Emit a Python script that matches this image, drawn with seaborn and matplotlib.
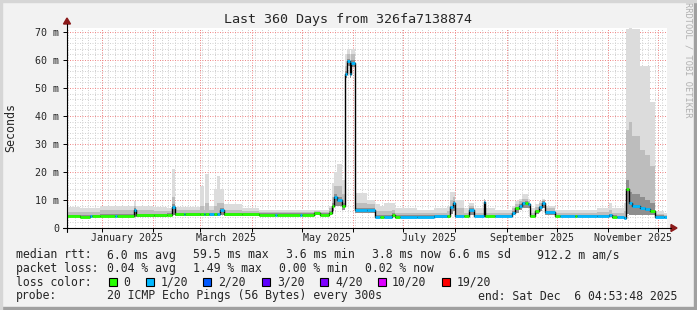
import matplotlib
matplotlib.use("Agg")
import matplotlib.pyplot as plt
import seaborn as sns
import pandas as pd
from matplotlib.patches import Rectangle, Polygon
from matplotlib.lines import Line2D
from datetime import datetime, timedelta

# ---------------- data ----------------
TITLE = "Last 360 Days from 326fa7138874"
END_TIME = datetime(2025, 12, 6, 4, 53, 48)
SPAN_DAYS = 360

# segment start (days since start of graph); values hold until next segment
seg_day = [0, 8, 14, 15, 20, 29, 30, 40, 41.5, 52, 60, 63, 65, 70, 71, 80, 82, 83, 85, 88,
           90, 92, 94, 105, 115, 125, 126, 140, 141, 148, 152, 157, 159, 160, 162, 165, 166.5, 168, 169.5, 170.5,
           172.5, 173, 180, 185, 188, 190, 195, 197, 200, 210, 220, 228, 230, 231.5, 232.5, 238, 241, 244, 250, 251,
           257, 267, 269, 271, 273, 275, 276.5, 278, 281, 283, 285, 287, 293, 296, 305, 306, 318, 325, 327, 330,
           334, 335.5, 337, 339, 344, 347, 350, 353, 358]
median_ms = [4.3, 4.1, 4.3, 4.3, 4.4, 4.4, 4.4, 6.4, 4.5, 4.5, 4.8, 7.5, 5.0, 5.0, 5.0, 4.9, 4.9, 4.9, 4.9, 4.9,
             4.9, 6.6, 4.9, 4.9, 4.8, 4.8, 4.8, 4.8, 4.8, 5.3, 4.8, 5.5, 8.0, 11.0, 10.0, 8.0, 55, 59.5, 55, 59,
             44, 6.4, 6.4, 4.0, 4.0, 4.0, 4.8, 4.0, 4.0, 4.0, 4.2, 4.2, 7.5, 9.0, 4.3, 4.3, 6.5, 4.3, 9.4, 4.3,
             4.3, 5.5, 7.0, 8.0, 8.8, 9.0, 8.5, 4.2, 6.0, 7.5, 9.0, 5.7, 4.3, 4.3, 4.3, 4.3, 4.3, 4.5, 4.0, 3.8,
             3.6, 14, 9.0, 8.0, 7.2, 6.8, 6.2, 4.0, 3.8]
loss_idx = [0, 0, 1, 0, 0, 1, 0, 1, 0, 0, 0, 1, 0, 1, 0, 0, 1, 0, 1, 0,
            1, 1, 0, 0, 0, 1, 0, 1, 0, 0, 0, 0, 0, 1, 1, 0, 1, 1, 1, 1,
            0, 1, 1, 1, 0, 1, 0, 0, 1, 1, 1, 0, 1, 1, 1, 0, 1, 1, 1, 0,
            1, 1, 0, 1, 1, 0, 1, 0, 0, 1, 1, 1, 0, 1, 0, 1, 1, 1, 0, 1,
            1, 0, 1, 1, 1, 1, 0, 1, 1]
smoke_lo = [3.8, 3.7, 3.8, 3.8, 3.9, 3.9, 3.9, 4.0, 4.0, 4.0, 4.2, 4.5, 4.4, 4.4, 4.4, 4.3, 4.3, 4.3, 4.3, 4.3,
            4.3, 4.5, 4.3, 4.3, 4.2, 4.2, 4.2, 4.2, 4.2, 4.5, 4.2, 4.5, 6.0, 8.0, 8.0, 6.5, 53.5, 58, 53.5, 57.5,
            40, 5.5, 5.5, 3.6, 3.6, 3.6, 4.0, 3.6, 3.6, 3.6, 3.6, 3.7, 5.0, 6.0, 3.8, 3.8, 4.5, 3.8, 5.0, 3.8,
            3.8, 4.5, 5.5, 6.5, 7.0, 7.0, 7.0, 3.8, 5.0, 6.0, 7.0, 4.5, 3.8, 3.8, 3.8, 3.8, 3.8, 3.8, 3.6, 3.4,
            3.4, 5.0, 4.5, 4.5, 4.5, 4.5, 4.5, 3.5, 3.5]
smoke_core = [4.7, 4.5, 4.7, 4.7, 4.9, 4.9, 4.9, 7.0, 5.0, 5.0, 5.2, 8.5, 5.4, 5.4, 5.4, 5.3, 5.3, 5.3, 5.3, 5.3,
              5.3, 7.2, 5.3, 5.3, 5.2, 5.2, 5.2, 5.2, 5.2, 5.7, 5.2, 6.0, 9.0, 12, 11, 9.0, 56, 60.5, 56, 60,
              45, 7.0, 7.0, 4.5, 4.5, 4.5, 5.3, 4.5, 4.5, 4.5, 4.7, 4.7, 8.0, 9.5, 4.8, 4.8, 7.0, 4.8, 9.8, 4.8,
              4.8, 6.0, 7.5, 8.5, 9.3, 9.5, 9.0, 4.7, 6.5, 8.0, 9.5, 6.2, 4.8, 4.8, 4.8, 4.8, 4.8, 5.0, 4.5, 4.3,
              4.1, 17, 13, 12, 11, 10, 9, 4.5, 4.3]
smoke_q = [5.8, 5.6, 5.8, 5.8, 6.5, 6.5, 6.5, 8.0, 6.5, 6.0, 6.0, 11, 6.5, 6.5, 6.5, 8.0, 6.5, 9.0, 6.5, 8.0,
           9.0, 9.0, 6.5, 6.0, 5.7, 5.7, 5.7, 5.7, 5.8, 6.0, 5.7, 7.0, 11, 15, 15, 12, 58, 62, 58, 62,
           52, 9.0, 8.5, 6.0, 6.0, 6.0, 6.5, 5.5, 5.5, 5.2, 5.5, 6.0, 10, 11, 7.0, 5.5, 8.0, 5.5, 10.2, 5.5,
           5.3, 7.0, 8.5, 9.5, 10.5, 10.5, 9.8, 5.5, 7.5, 8.8, 10, 7.0, 5.5, 5.5, 5.5, 5.5, 5.7, 6.5, 5.5, 5.3,
           6.0, 35, 38, 33, 28, 26, 22, 5.0, 4.8]
smoke_hi = [7.5, 7.0, 7.3, 7.3, 8.0, 8.0, 8.0, 9.5, 8.0, 7.5, 7.0, 21, 7.5, 7.5, 7.5, 15, 8.0, 19.3, 8.0, 14,
            18.6, 14, 8.5, 7.0, 6.3, 6.3, 6.3, 6.3, 6.5, 6.5, 6.3, 8.0, 16, 20, 23, 17, 62, 64, 62, 64,
            58, 12.5, 10, 8.5, 8.0, 9.0, 9.0, 7.0, 7.0, 6.5, 7.0, 8.0, 13, 13, 10, 7.0, 9.0, 7.0, 10.5, 7.0,
            6.5, 8.0, 9.5, 10.5, 12, 12, 10.5, 7.0, 8.5, 9.5, 10.5, 8.0, 6.5, 6.5, 6.5, 6.5, 7.0, 9.0, 7.0, 7.0,
            9.0, 71, 72, 71, 58, 58, 45, 6.0, 5.5]

y_ticks = [0, 10, 20, 30, 40, 50, 60, 70]
y_tick_labels = ["0", "10 m", "20 m", "30 m", "40 m", "50 m", "60 m", "70 m"]
month_label_months = [(2025, 1), (2025, 3), (2025, 5), (2025, 7), (2025, 9), (2025, 11)]
month_label_texts = ["January 2025", "March 2025", "May 2025", "July 2025", "September 2025", "November 2025"]

loss_colors = ["#26ff00", "#00b8ff", "#0059ff", "#5e00ff", "#7e00ff", "#dd00ff", "#ff0000"]
loss_labels = ["0", "1/20", "2/20", "3/20", "4/20", "10/20", "19/20"]

stat_rtt = ["median rtt:", "6.0 ms avg", "59.5 ms max", "3.6 ms min", "3.8 ms now", "6.6 ms sd", "912.2 m am/s"]
stat_loss = ["packet loss:", "0.04 % avg", "1.49 % max", "0.00 % min", "0.02 % now"]
probe_text = "20 ICMP Echo Pings (56 Bytes) every 300s"
end_text = "end: Sat Dec  6 04:53:48 2025"

# ---------------- layout helpers ----------------
W, H = 697, 310
START = END_TIME - timedelta(days=SPAN_DAYS)
PX_L, PX_R, PX_T, PX_B = 67, 667, 28, 228
YMAX = (PX_B - PX_T) / 2.8


def fx(px):
    return px / W


def fy(py):
    return 1 - py / H


def day_of(dt):
    return (dt - START).total_seconds() / 86400.0


sns.set_style("white")
plt.rcParams["font.family"] = ["DejaVu Sans Mono", "DejaVu Sans"]
MONO = "DejaVu Sans Mono"

fig = plt.figure(figsize=(W / 100, H / 100), dpi=100, facecolor="#f2f2f2")
# frame (3D style border)
fig.patches.append(Rectangle((0, 0), 1, 3 / H, transform=fig.transFigure, color="#a0a0a0", zorder=0))
fig.patches.append(Rectangle((fx(W - 3), 0), fx(3), 1, transform=fig.transFigure, color="#a0a0a0", zorder=0))
fig.patches.append(Rectangle((0, fy(2)), 1, 2 / H, transform=fig.transFigure, color="#d6d6d6", zorder=0))
fig.patches.append(Rectangle((0, 0), fx(2), 1, transform=fig.transFigure, color="#d6d6d6", zorder=0))

ax = fig.add_axes([fx(PX_L), fy(PX_B), (PX_R - PX_L) / W, (PX_B - PX_T) / H])
ax.set_facecolor("white")
ax.set_xlim(0, SPAN_DAYS)
ax.set_ylim(0, YMAX)
for s in ax.spines.values():
    s.set_visible(False)

# grid
dot = (0, (1, 1.5))
minor_days = []
t = datetime(START.year, START.month, START.day) + timedelta(days=1)
while day_of(t) < SPAN_DAYS:
    minor_days.append(day_of(t))
    t += timedelta(days=4)
for md in minor_days:
    ax.axvline(md, color="#d2d2d2", lw=0.72, ls=dot, zorder=1)
for yv in range(2, 72, 2):
    if yv % 10:
        ax.axhline(yv, color="#d2d2d2", lw=0.72, ls=dot, zorder=1)
month_starts = [day_of(datetime(2025, m, 1)) for m in range(1, 13)]
for ms in month_starts:
    ax.axvline(ms, color="#f08a8a", lw=0.72, ls=dot, zorder=1.1)
for yv in y_ticks[1:]:
    ax.axhline(yv, color="#f08a8a", lw=0.72, ls=dot, zorder=1.1)

# smoke
df = pd.DataFrame({"day": seg_day, "median": median_ms, "loss": loss_idx, "lo": smoke_lo,
                   "core": smoke_core, "q": smoke_q, "hi": smoke_hi})
x_edges = list(df["day"]) + [SPAN_DAYS]


def ext(col):
    v = list(df[col])
    return v + [v[-1]]


ax.fill_between(x_edges, ext("lo"), ext("hi"), step="post", color="#dcdcdc", lw=0, zorder=2)
ax.fill_between(x_edges, ext("lo"), ext("q"), step="post", color="#bdbdbd", lw=0, zorder=2.1)
ax.fill_between(x_edges, ext("lo"), ext("core"), step="post", color="#8e8e8e", lw=0, zorder=2.2)

# median line (black steps + loss colored segments)
line_df = pd.DataFrame({"day": x_edges, "median": ext("median")})
sns.lineplot(data=line_df, x="day", y="median", drawstyle="steps-post", color="black", lw=1.0,
             ax=ax, legend=False, zorder=3)
for i in range(len(df)):
    ax.hlines(df["median"][i], x_edges[i], x_edges[i + 1], colors=loss_colors[df["loss"][i]],
              lw=2.0, zorder=4)

ax.set_xlabel("")
ax.set_ylabel("")

# ticks
ax.set_yticks(y_ticks)
ax.set_yticklabels(y_tick_labels, fontsize=7.2, family=MONO)
ax.tick_params(axis="y", length=3, width=0.7, pad=2.5, color="black", left=True)
ax.set_xticks(month_starts)
ax.set_xticklabels([])
ax.tick_params(axis="x", length=3, width=0.7, color="black", bottom=True)

for (yy, mm), lab in zip(month_label_months, month_label_texts):
    a = day_of(datetime(yy, mm, 1))
    b = day_of(datetime(yy + (mm // 12), mm % 12 + 1, 1))
    ax.text((a + b) / 2, -10 / (PX_B - PX_T), lab, transform=ax.get_xaxis_transform(),
            ha="center", va="center", fontsize=7.2, family=MONO)

# axes lines with arrows
fig.lines.append(Line2D([fx(63), fx(671)], [fy(PX_B), fy(PX_B)], transform=fig.transFigure, color="black", lw=0.8))
fig.lines.append(Line2D([fx(PX_L), fx(PX_L)], [fy(232), fy(24)], transform=fig.transFigure, color="black", lw=0.8))
fig.patches.append(Polygon([(fx(671), fy(PX_B - 3.5)), (fx(677), fy(PX_B)), (fx(671), fy(PX_B + 3.5))],
                           closed=True, transform=fig.transFigure, color="#8b1a1a"))
fig.patches.append(Polygon([(fx(PX_L - 3.5), fy(24)), (fx(PX_L), fy(18)), (fx(PX_L + 3.5), fy(24))],
                           closed=True, transform=fig.transFigure, color="#8b1a1a"))

# titles
fig.text(fx(348), fy(19), TITLE, ha="center", va="center", fontsize=9.6, family=MONO)
fig.text(fx(11), fy(128), "Seconds", rotation=90, ha="center", va="center", fontsize=8.4, family=MONO)
fig.text(fx(688), fy(60), "RRDTOOL / TOBI OETIKER", rotation=270, ha="center", va="center",
         fontsize=6.2, family=MONO, color="#b0b0b0")

# legend
LEG = 8.3
rtt_x = [16, 107, 193, 286, 372, 449, 537]
for px, s in zip(rtt_x, stat_rtt):
    fig.text(fx(px), fy(255), s, ha="left", va="center", fontsize=LEG, family=MONO)
loss_x = [16, 107, 193, 279, 365]
for px, s in zip(loss_x, stat_loss):
    fig.text(fx(px), fy(268.5), s, ha="left", va="center", fontsize=LEG, family=MONO)
fig.text(fx(16), fy(282), "loss color:", ha="left", va="center", fontsize=LEG, family=MONO)
box_x = [109, 146, 203, 262, 320, 378, 442]
lab_x = [123, 161, 218, 277, 335, 392, 457]
for bx, lx, c, lab in zip(box_x, lab_x, loss_colors, loss_labels):
    fig.patches.append(Rectangle((fx(bx), fy(286)), 8 / W, 8 / H, transform=fig.transFigure,
                                 facecolor=c, edgecolor="black", lw=0.8))
    fig.text(fx(lx), fy(282), lab, ha="left", va="center", fontsize=LEG, family=MONO)
fig.text(fx(16), fy(296), "probe:", ha="left", va="center", fontsize=LEG, family=MONO)
fig.text(fx(107), fy(296), probe_text, ha="left", va="center", fontsize=LEG, family=MONO)
fig.text(fx(478), fy(296), end_text, ha="left", va="center", fontsize=LEG, family=MONO)

fig.savefig("out.png", dpi=100, facecolor=fig.get_facecolor())
